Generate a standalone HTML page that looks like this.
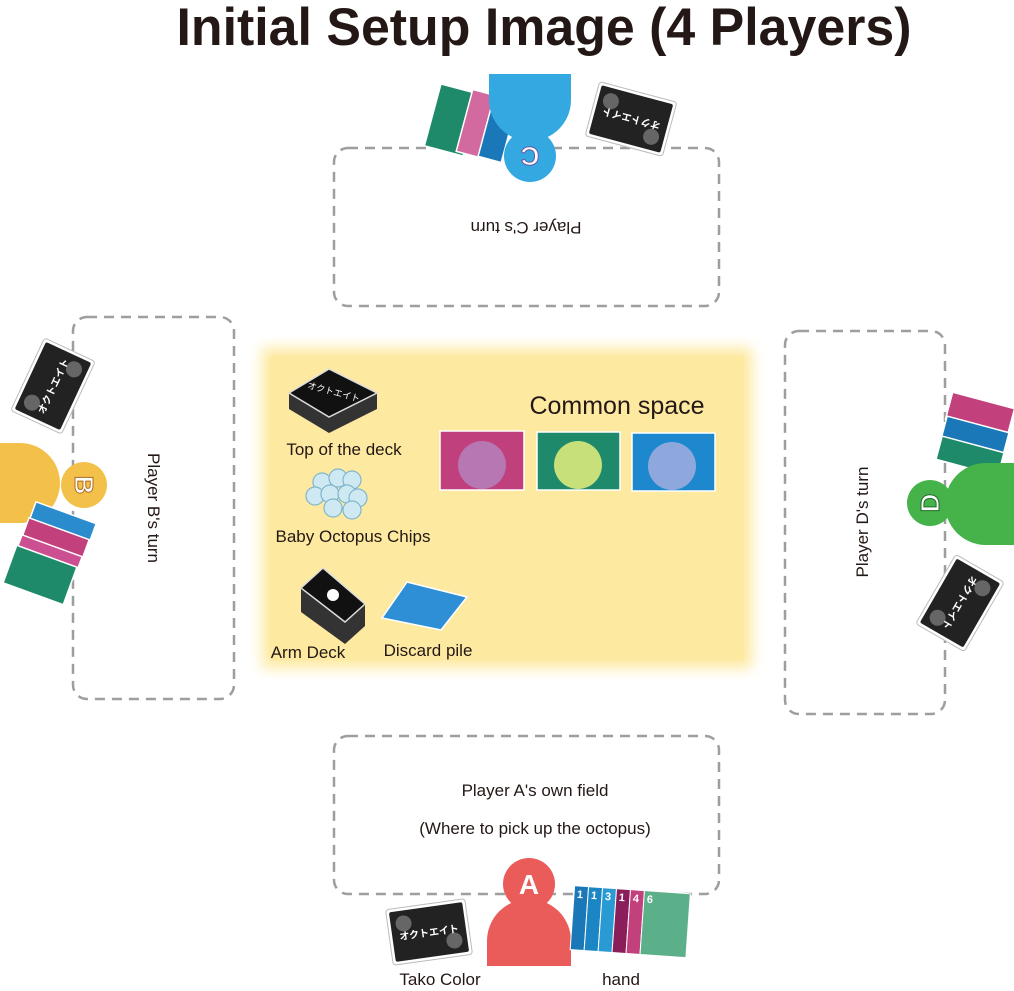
<!DOCTYPE html>
<html><head><meta charset="utf-8"><style>
html,body{margin:0;padding:0;background:#fff}
body{width:1014px;height:986px;overflow:hidden;position:relative;font-family:"Liberation Sans","Noto Sans CJK JP",sans-serif}
</style></head><body>
<svg width="1014" height="986" viewBox="0 0 1014 986" xmlns="http://www.w3.org/2000/svg" font-family="Liberation Sans, Noto Sans CJK JP, sans-serif">
<defs>
<filter id="blur" x="-10%" y="-10%" width="120%" height="120%"><feGaussianBlur stdDeviation="7"/></filter>
<g id="back">
<rect x="-40" y="-28" width="80" height="56" rx="3" fill="#fff" stroke="#bbb" stroke-width="1"/>
<rect x="-37" y="-25" width="74" height="50" rx="2" fill="#222"/>
<circle cx="-24" cy="-12" r="8" fill="#666"/><circle cx="24" cy="12" r="8" fill="#666"/>
<text x="0" y="4" font-size="10" fill="#fff" text-anchor="middle" font-weight="bold">オクトエイト</text>
</g>
</defs>
<text x="544" y="45" font-size="53" font-weight="bold" text-anchor="middle" fill="#231815" textLength="735" lengthAdjust="spacingAndGlyphs">Initial Setup Image (4 Players)</text>

<rect x="262" y="348" width="490" height="320" fill="#fde9a0" filter="url(#blur)"/>
<rect x="270" y="356" width="474" height="304" fill="#fde9a0"/>

<g fill="none" stroke="#9e9e9e" stroke-width="2.5" stroke-dasharray="10 7">
<rect x="334" y="148" width="385" height="158" rx="14"/>
<rect x="73" y="317" width="161" height="382" rx="14"/>
<rect x="785" y="331" width="160" height="383" rx="14"/>
<rect x="334" y="736" width="385" height="158" rx="14"/>
</g>

<g font-size="17" fill="#231815">
<text x="526" y="234" text-anchor="middle" transform="rotate(180 526 228)">Player C's turn</text>
<text x="535" y="796" text-anchor="middle">Player A's own field</text>
<text x="535" y="834" text-anchor="middle">(Where to pick up the octopus)</text>
<text x="0" y="0" text-anchor="middle" transform="translate(148 508) rotate(90)">Player B's turn</text>
<text x="0" y="0" text-anchor="middle" transform="translate(868 522) rotate(-90)">Player D's turn</text>
<text x="344" y="455" text-anchor="middle">Top of the deck</text>
<text x="353" y="542" text-anchor="middle">Baby Octopus Chips</text>
<text x="308" y="658" text-anchor="middle">Arm Deck</text>
<text x="428" y="656" text-anchor="middle">Discard pile</text>
<text x="440" y="985" text-anchor="middle">Tako Color</text>
<text x="621" y="985" text-anchor="middle">hand</text>
</g>
<text x="617" y="414" font-size="25" text-anchor="middle" fill="#231815">Common space</text>

<g transform="translate(333 395)">
<polygon points="-44,-2 -4,22 44,-2 44,14 -4,38 -44,14" fill="#333"/>
<polygon points="-44,-2 -4,-26 44,-2 -4,22" fill="#111" stroke="#ddd" stroke-width="1.5"/>
<text x="0" y="0" font-size="9" fill="#fff" text-anchor="middle" transform="rotate(15)">オクトエイト</text>
</g>
<g fill="#cfe9f3" stroke="#7fb6cc" stroke-width="1.2">
<circle cx="322" cy="482" r="9"/><circle cx="338" cy="478" r="9"/><circle cx="352" cy="480" r="9"/>
<circle cx="315" cy="496" r="9"/><circle cx="330" cy="494" r="9"/><circle cx="347" cy="494" r="9"/><circle cx="358" cy="498" r="9"/>
<circle cx="333" cy="508" r="9"/><circle cx="352" cy="510" r="9"/>
</g>
<g transform="translate(333 598)">
<polygon points="-32,-10 12,24 32,6 32,28 12,46 -32,14" fill="#333"/>
<polygon points="-32,-10 -10,-30 32,6 12,24" fill="#111" stroke="#ddd" stroke-width="1.5"/>
<circle cx="0" cy="-3" r="6" fill="#fff"/>
</g>
<polygon points="382,618 407,582 467,597 441,630" fill="#2f8fd6" stroke="#fff" stroke-width="1.5"/>
<rect x="440" y="431" width="84" height="59" fill="#c0407e" stroke="#fff" stroke-width="1.5"/>
<circle cx="482" cy="465" r="24" fill="#b677b2"/>
<rect x="537" y="432" width="83" height="58" fill="#1e8a6b" stroke="#fff" stroke-width="1.5"/>
<circle cx="578" cy="465" r="24" fill="#c8e07a"/>
<rect x="632" y="433" width="83" height="58" fill="#1e88cf" stroke="#fff" stroke-width="1.5"/>
<circle cx="672" cy="466" r="24" fill="#8ea8dd"/>

<g transform="translate(452 120) rotate(15)"><rect x="-20" y="-32" width="40" height="64" fill="#1f8a6a" stroke="#fff" stroke-width="1.5"/></g>
<g transform="translate(478 124) rotate(15)"><rect x="-14" y="-32" width="30" height="64" fill="#d26aa0" stroke="#fff" stroke-width="1.5"/></g>
<g transform="translate(496 128) rotate(15)"><rect x="-10" y="-32" width="24" height="64" fill="#1a78b8" stroke="#fff" stroke-width="1.5"/></g>
<path d="M489 74 H571 V100 A41 41 0 0 1 489 100 Z" fill="#34a9e1"/>
<circle cx="530" cy="156" r="26" fill="#34a9e1"/>
<text x="530" y="165" font-size="26" font-weight="bold" fill="#fff" stroke="#6a57a3" stroke-width="1" text-anchor="middle" transform="rotate(180 530 156)">C</text>
<use href="#back" transform="translate(631 119) rotate(195)"/>

<use href="#back" transform="translate(53 386) rotate(-65)"/>
<path d="M0 443 H20 A40 40 0 0 1 20 523 H0 Z" fill="#f3c14a"/>
<circle cx="84" cy="485" r="23" fill="#f3c14a"/>
<text x="84" y="494" font-size="26" font-weight="bold" fill="#fff" stroke="#b06a20" stroke-width="1" text-anchor="middle" transform="rotate(90 84 485)">B</text>
<g transform="translate(62 524) rotate(-70)"><rect x="-12" y="-32" width="24" height="64" fill="#2a8ccc" stroke="#fff" stroke-width="1.5"/></g>
<g transform="translate(55 540) rotate(-70)"><rect x="-12" y="-32" width="24" height="64" fill="#c2407c" stroke="#fff" stroke-width="1.5"/></g>
<g transform="translate(48 557) rotate(-70)"><rect x="-12" y="-32" width="24" height="64" fill="#cc4f91" stroke="#fff" stroke-width="1.5"/></g>
<g transform="translate(40 575) rotate(-70)"><rect x="-20" y="-32" width="40" height="64" fill="#1f8a6a" stroke="#fff" stroke-width="1.5"/></g>

<g transform="translate(980 414) rotate(105)"><rect x="-14" y="-32" width="28" height="64" fill="#c2407c" stroke="#fff" stroke-width="1.5"/></g>
<g transform="translate(975 436) rotate(105)"><rect x="-12" y="-32" width="24" height="64" fill="#1a78b8" stroke="#fff" stroke-width="1.5"/></g>
<g transform="translate(970 456) rotate(105)"><rect x="-12" y="-32" width="24" height="64" fill="#1f8a6a" stroke="#fff" stroke-width="1.5"/></g>
<path d="M1014 463 H986 A41 41 0 0 0 986 545 H1014 Z" fill="#45b349"/>
<circle cx="930" cy="503" r="23" fill="#45b349"/>
<text x="930" y="512" font-size="26" font-weight="bold" fill="#fff" stroke="#1d6b2a" stroke-width="1" text-anchor="middle" transform="rotate(-90 930 503)">D</text>
<use href="#back" transform="translate(960 603) rotate(120)"/>

<use href="#back" transform="translate(429 932) rotate(-8)"/>
<path d="M487 966 V941 A42 42 0 0 1 571 941 V966 Z" fill="#e95c5a"/>
<circle cx="529" cy="884" r="26" fill="#e95c5a"/>
<text x="529" y="894" font-size="28" font-weight="bold" fill="#fff" text-anchor="middle">A</text>
<g transform="rotate(4 620 925)">
<rect x="572" y="889" width="14" height="64" fill="#1a78b8" stroke="#fff"/>
<rect x="586" y="889" width="14" height="64" fill="#1c86c4" stroke="#fff"/>
<rect x="600" y="889" width="14" height="64" fill="#2a9ad3" stroke="#fff"/>
<rect x="614" y="889" width="14" height="64" fill="#8a1e5a" stroke="#fff"/>
<rect x="628" y="889" width="14" height="64" fill="#c2407c" stroke="#fff"/>
<rect x="642" y="889" width="46" height="64" fill="#5bb08a" stroke="#fff"/>
<g font-size="11" font-weight="bold" fill="#fff"><text x="575" y="901">1</text><text x="589" y="901">1</text><text x="603" y="901">3</text><text x="617" y="901">1</text><text x="631" y="901">4</text><text x="645" y="901">6</text></g>
</g>
</svg>
</body></html>
